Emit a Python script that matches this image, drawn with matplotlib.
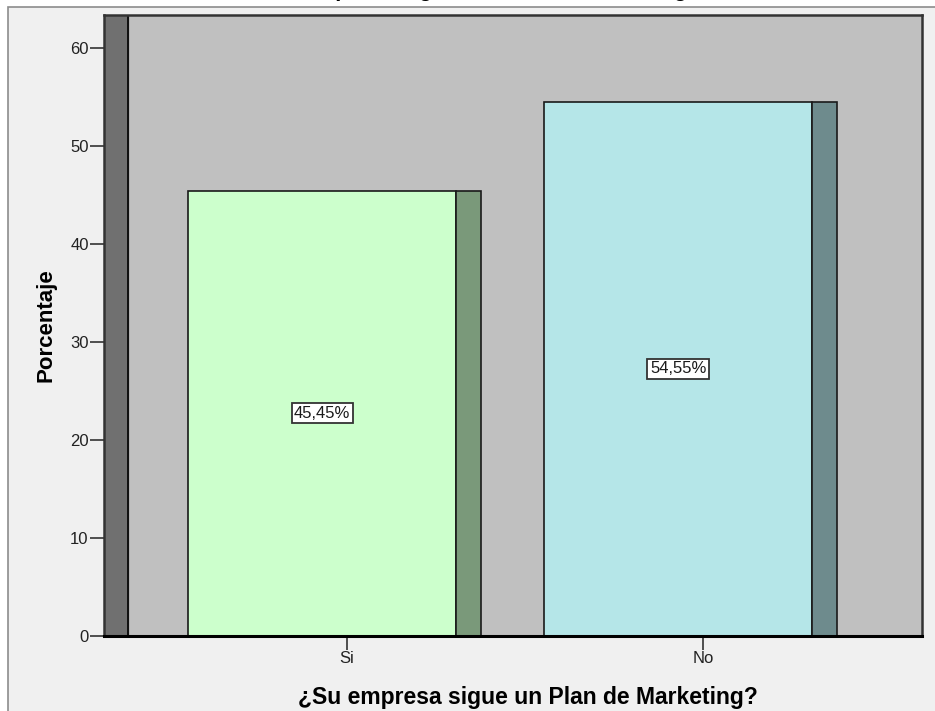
import numpy as np
import matplotlib
matplotlib.use('Agg')
from matplotlib import pyplot as plt
from matplotlib.patches import Rectangle

plt.rcParams['font.family'] = ['Liberation Sans', 'DejaVu Sans']

categorias = ['Si', 'No']
porcentajes = [45.45, 54.55]
etiquetas = ['45,45%', '54,55%']
color_frente = ['#CCFFCC', '#B5E6E8']
color_lado = ['#7A997A', '#6E8B8D']
yticks = [0, 10, 20, 30, 40, 50, 60]
titulo = '¿Su empresa sigue un Plan de Marketing?'

fig = plt.figure(figsize=(9.35, 7.11), dpi=100, facecolor='white')

# panel gris claro de fondo
fig.patches.append(Rectangle((8/935, -0.01), 1.0, (711-7)/711 + 0.01, transform=fig.transFigure,
                             facecolor='#F0F0F0', edgecolor='#8C8C8C', lw=1.2, zorder=-5))

# titulo cortado arriba
fig.text(478/935, 715/711, titulo, ha='center', va='baseline', fontsize=16,
         fontweight='bold', color='black', zorder=-4)

ax = fig.add_axes([104/935, 75/711, (922-104)/935, (636-15)/711])
ax.set_zorder(2)
ax.set_facecolor('#C0C0C0')

x = np.arange(len(categorias))
ax.set_xlim(-0.683, 1.615)
ax.set_ylim(0, 63.4)

# pared izquierda
ax.axvspan(-0.683, -0.615, color='#707070', zorder=1)
ax.axvline(-0.615, color='black', lw=1.2, zorder=1)

ax.bar(x - 0.447, porcentajes, width=0.753, align='edge', color=color_frente,
       edgecolor='#1A1A1A', lw=1.2, zorder=2)
ax.bar(x + 0.306, porcentajes, width=0.070, align='edge', color=color_lado,
       edgecolor='#1A1A1A', lw=1.2, zorder=2)

for xi, v, t in zip(x, porcentajes, etiquetas):
    ax.text(xi - 0.07, v / 2, t, ha='center', va='center', fontsize=12, color='#1A1A1A',
            bbox=dict(boxstyle='square,pad=0.15', facecolor='white', edgecolor='#333333', lw=1.3),
            zorder=3)

for s in ['top', 'right', 'left']:
    ax.spines[s].set_color('#333333')
    ax.spines[s].set_linewidth(1.8)
ax.spines['bottom'].set_color('black')
ax.spines['bottom'].set_linewidth(2.2)

ax.set_yticks(yticks)
ax.set_xticks(x)
ax.set_xticklabels(categorias)
ax.tick_params(axis='both', direction='out', length=10, width=1.2, colors='#333333',
               labelsize=12, labelcolor='#222222', pad=1)

ax.set_ylabel('Porcentaje', fontsize=16, fontweight='bold', labelpad=10)
ax.set_xlabel(titulo, fontsize=16.5, fontweight='bold')
ax.xaxis.set_label_coords(0.518, -0.08)

fig.savefig('out.png', dpi=100, facecolor=fig.get_facecolor())
